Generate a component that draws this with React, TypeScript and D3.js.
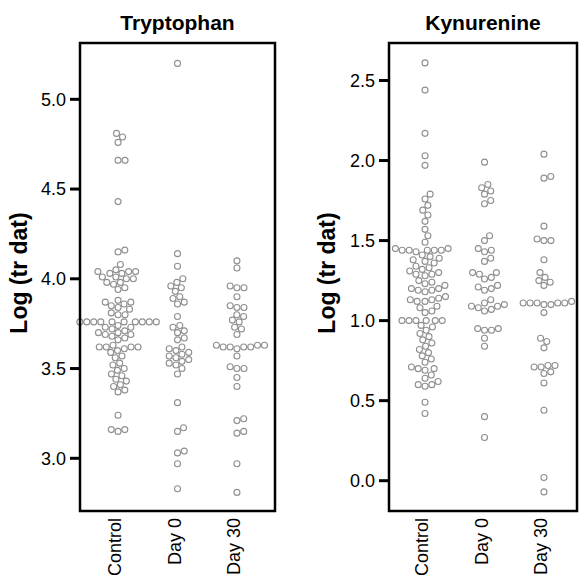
import React from "react";
import * as d3 from "d3";

const groups = ["Control", "Day 0", "Day 30"];

const trpControl = [
  4.81, 4.79, 4.76, 4.66, 4.66, 4.43, 4.16, 4.15, 4.08,
  4.04, 4.04, 4.03, 4.04, 4.03, 4.05,
  4.01, 4.0, 4.01, 4.0,
  3.98, 3.97, 3.98,
  3.95, 3.94,
  3.88, 3.87, 3.87, 3.86,
  3.85, 3.84, 3.83,
  3.81, 3.8, 3.8,
  3.76, 3.76, 3.76, 3.76, 3.76, 3.76, 3.76, 3.76, 3.76, 3.76,
  3.74, 3.73, 3.73, 3.72,
  3.71, 3.7, 3.7, 3.69, 3.69,
  3.68, 3.67, 3.66,
  3.63, 3.62, 3.62, 3.62, 3.61, 3.62,
  3.6, 3.59,
  3.57, 3.56,
  3.53, 3.52, 3.5, 3.49, 3.47, 3.46, 3.44, 3.43, 3.41, 3.4, 3.38, 3.37,
  3.24,
  3.16, 3.15, 3.16,
];
const trpDay0 = [
  5.2, 4.14, 4.07, 4.0, 3.98, 3.96, 3.95, 3.93, 3.9, 3.89, 3.87, 3.86,
  3.79, 3.74, 3.73, 3.71, 3.7, 3.67, 3.66, 3.62, 3.61, 3.6, 3.59, 3.58, 3.57,
  3.56, 3.55, 3.54, 3.53, 3.52, 3.5, 3.47,
  3.31, 3.17, 3.15, 3.04, 3.03, 2.97, 2.83,
];
const trpDay30 = [
  4.1, 4.06, 3.96, 3.95, 3.95, 3.9, 3.85, 3.84, 3.84, 3.8, 3.79, 3.77, 3.76,
  3.73, 3.72, 3.69,
  3.63, 3.63, 3.62, 3.62, 3.62, 3.62, 3.61, 3.63,
  3.57, 3.51, 3.5, 3.5, 3.45, 3.4, 3.22, 3.21, 3.15, 3.14, 2.97, 2.81,
];

const kynControl = [
  2.61, 2.44, 2.17, 2.03, 1.97, 1.79, 1.76, 1.72, 1.69, 1.66, 1.62, 1.57, 1.53, 1.49,
  1.44, 1.44, 1.45, 1.44, 1.43, 1.44, 1.44, 1.45,
  1.41, 1.4, 1.39, 1.38, 1.37, 1.36,
  1.34, 1.33, 1.32, 1.31,
  1.3, 1.29, 1.29, 1.28,
  1.25, 1.24, 1.23, 1.22,
  1.2, 1.2, 1.19, 1.19, 1.18,
  1.15, 1.14, 1.13, 1.13, 1.12, 1.12,
  1.09, 1.08, 1.06, 1.05,
  1.0, 1.0, 1.0, 1.0, 1.0, 1.0,
  0.97, 0.96, 0.94,
  0.92, 0.9, 0.88, 0.86, 0.84, 0.82, 0.8, 0.78, 0.76, 0.74,
  0.71, 0.7, 0.7, 0.69,
  0.66, 0.64, 0.62,
  0.6, 0.6, 0.59,
  0.49, 0.42,
];
const kynDay0 = [
  1.99, 1.85, 1.83, 1.81, 1.79, 1.75, 1.73,
  1.53, 1.5, 1.45, 1.44, 1.43, 1.39, 1.37,
  1.3, 1.3, 1.29, 1.27, 1.26, 1.22, 1.21, 1.2, 1.19,
  1.13, 1.11, 1.1, 1.09, 1.09, 1.08, 1.07, 1.06,
  0.95, 0.95, 0.94, 0.94, 0.89, 0.84,
  0.4, 0.27,
];
const kynDay30 = [
  2.04, 1.9, 1.89, 1.59, 1.51, 1.5, 1.5, 1.38, 1.3, 1.27, 1.25, 1.24, 1.22,
  1.11, 1.11, 1.11, 1.1, 1.11, 1.12, 1.11, 1.1,
  1.05, 0.89, 0.87, 0.83,
  0.72, 0.71, 0.72, 0.71, 0.68, 0.67, 0.61,
  0.44, 0.02, -0.07,
];

const trpTicks = [3.0, 3.5, 4.0, 4.5, 5.0];
const kynTicks = [0.0, 0.5, 1.0, 1.5, 2.0, 2.5];

const DIAM = 7;
const FONT = "Liberation Sans, Arial, sans-serif";

function swarm(ys: number[]): number[] {
  const order = ys.map((y, i) => i).sort((a, b) => ys[b] - ys[a]);
  const placed: { x: number; y: number }[] = [];
  const out = new Array(ys.length).fill(0);
  for (const i of order) {
    const y = ys[i];
    const cands = [0];
    for (const p of placed) {
      const dy = Math.abs(p.y - y);
      if (dy < DIAM) {
        const off = Math.sqrt(DIAM * DIAM - dy * dy);
        cands.push(p.x + off, p.x - off);
      }
    }
    cands.sort((a, b) => Math.abs(a) - Math.abs(b));
    let chosen = 0;
    for (const c of cands) {
      let ok = true;
      for (const p of placed) {
        const dx = c - p.x;
        const dy = y - p.y;
        if (dx * dx + dy * dy < DIAM * DIAM - 0.01) {
          ok = false;
          break;
        }
      }
      if (ok) {
        chosen = c;
        break;
      }
    }
    placed.push({ x: chosen, y });
    out[i] = chosen;
  }
  return out;
}

type PanelProps = {
  title: string;
  series: number[][];
  ticks: number[];
  yDomain: [number, number];
  yRange: [number, number];
  left: number;
  right: number;
  xRange: [number, number];
  yTitleX: number;
};

const TOP = 43;
const BOTTOM = 511;

function Panel({ title, series, ticks, yDomain, yRange, left, right, xRange, yTitleX }: PanelProps) {
  const y = d3.scaleLinear().domain(yDomain).range(yRange);
  const x = d3.scalePoint<string>().domain(groups).range(xRange).padding(0.64);
  const fmt = d3.format(".1f");
  const midY = 273;
  return (
    <g>
      <text x={(left + right) / 2} y={30} textAnchor="middle" fontFamily={FONT} fontWeight="bold" fontSize={21}>
        {title}
      </text>
      <text
        transform={`translate(${yTitleX},${midY}) rotate(-90)`}
        textAnchor="middle"
        dy="0.35em"
        fontFamily={FONT}
        fontWeight="bold"
        fontSize={23}
      >
        Log (tr dat)
      </text>
      {series.map((vals, gi) => {
        const ys = vals.map((v) => y(v));
        const offs = swarm(ys);
        const cx = x(groups[gi]) as number;
        return (
          <g key={gi}>
            {vals.map((v, i) => (
              <circle key={i} cx={cx + offs[i]} cy={ys[i]} r={3} fill="none" stroke="#8f8f8f" strokeWidth={1.1} />
            ))}
          </g>
        );
      })}
      <rect x={left} y={TOP} width={right - left} height={BOTTOM - TOP} fill="none" stroke="#000" strokeWidth={2.5} />
      {ticks.map((t) => (
        <g key={t}>
          <line x1={left - 10} x2={left} y1={y(t)} y2={y(t)} stroke="#000" strokeWidth={3} />
          <text x={left - 14} y={y(t)} dy="0.35em" textAnchor="end" fontFamily={FONT} fontSize={18}>
            {fmt(t)}
          </text>
        </g>
      ))}
      {groups.map((g) => (
        <text
          key={g}
          transform={`translate(${(x(g) as number) - 3},${BOTTOM + 7}) rotate(-90)`}
          textAnchor="end"
          dy="0.35em"
          fontFamily={FONT}
          fontSize={18}
        >
          {g}
        </text>
      ))}
    </g>
  );
}

export default function App() {
  return (
    <svg width={579} height={576} style={{ position: "absolute", left: 0, top: 0, background: "#fff" }}>
      <rect x={0} y={0} width={579} height={576} fill="#fff" />
      <Panel
        title="Tryptophan"
        series={[trpControl, trpDay0, trpDay30]}
        ticks={trpTicks}
        yDomain={[3.0, 5.0]}
        yRange={[458.3, 99.3]}
        left={80}
        right={275}
        xRange={[80, 275]}
        yTitleX={19}
      />
      <Panel
        title="Kynurenine"
        series={[kynControl, kynDay0, kynDay30]}
        ticks={kynTicks}
        yDomain={[0, 2.5]}
        yRange={[480.7, 80.5]}
        left={389}
        right={577}
        xRange={[387, 582]}
        yTitleX={327}
      />
    </svg>
  );
}
